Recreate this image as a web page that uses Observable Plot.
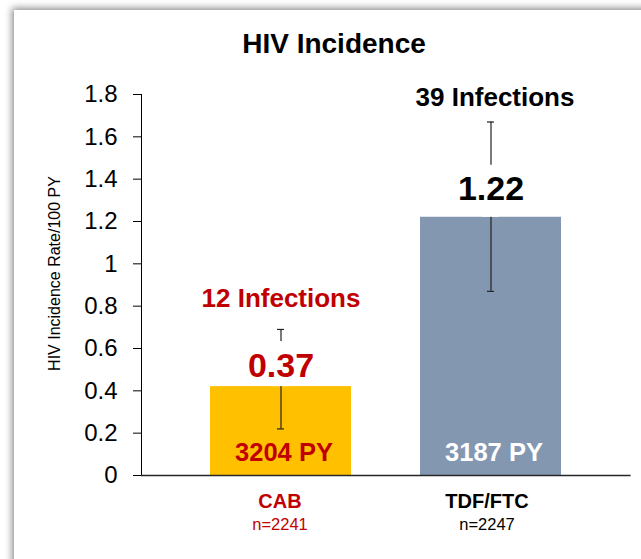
<!DOCTYPE html>
<html>
<head>
<meta charset="utf-8">
<script src="https://cdn.jsdelivr.net/npm/d3@7"></script>
<script src="https://cdn.jsdelivr.net/npm/@observablehq/plot@0.6"></script>
<style>
  html, body { margin: 0; padding: 0; background: #fff; width: 641px; height: 559px; overflow: hidden; font-family: "Liberation Sans", Arial, sans-serif; }
  #card { position: absolute; left: 14px; top: 10px; width: 700px; height: 620px; background: #fff; box-shadow: -2px -2px 7px rgba(0,0,0,0.45); }
  #title { position: absolute; left: 34px; top: 30px; width: 600px; text-align: center; font-weight: bold; font-size: 28px; line-height: 28px; color: #000; }
  #chart { position: absolute; left: 0; top: 0; }
  #chart svg { background: transparent; overflow: visible; }
</style>
</head>
<body>
<div id="card"></div>
<div id="chart"></div>
<div id="title">HIV Incidence</div>
<script>
// ---- data ----
const groups = ["CAB", "TDF/FTC"];
const rates = [0.42, 1.22];          // bar heights as drawn
const ciLow = [0.22, 0.87];
const ciHigh = [0.69, 1.67];
const rateLabels = ["0.37", "1.22"];
const infectionLabels = ["12 Infections", "39 Infections"];
const personYearLabels = ["3204 PY", "3187 PY"];
const sampleSizeLabels = ["n=2241", "n=2247"];
const yTicks = [0, 0.2, 0.4, 0.6, 0.8, 1, 1.2, 1.4, 1.6, 1.8];
const yTickLabels = ["0", "0.2", "0.4", "0.6", "0.8", "1", "1.2", "1.4", "1.6", "1.8"];
const yAxisLabel = "HIV Incidence Rate/100 PY";

// ---- styles ----
const groupStyle = {
  "CAB":     {bar: "#FFC000", text: "#C00000", py: "#C00000", valueDy: -9.5, boxUp: -45, infDy: -22, infDx: 0, pyDx: 3, nameDx: -1},
  "TDF/FTC": {bar: "#8497B0", text: "#000000", py: "#FFFFFF", valueDy: -16.8, boxUp: -52, infDy: -16.5, infDx: 4, pyDx: 3, nameDx: -4}
};

const data = groups.map((g, i) => ({
  group: g, rate: rates[i], lo: ciLow[i], hi: ciHigh[i],
  rateLabel: rateLabels[i], infections: infectionLabels[i],
  py: personYearLabels[i], n: sampleSizeLabels[i],
  fill: groupStyle[g].bar
}));

const font = "'Liberation Sans', Arial, sans-serif";
const perBar = data.flatMap(d => {
  const s = groupStyle[d.group];
  return [
    Plot.barY([d], {x: "group", y1: "rate", y2: "rate", fill: "white", insetTop: s.boxUp, insetLeft: 62, insetRight: 62}),
    Plot.text([d], {x: "group", y: "rate", text: "rateLabel", dy: s.valueDy, lineAnchor: "bottom", fontSize: 34, fontWeight: "bold", fill: s.text}),
    Plot.text([d], {x: "group", y: "hi", text: "infections", dx: s.infDx, dy: s.infDy, lineAnchor: "bottom", fontSize: 26, fontWeight: "bold", fill: s.text}),
    Plot.text([d], {x: "group", y: () => 0, text: "py", dx: s.pyDx, dy: -15, lineAnchor: "bottom", fontSize: 25.5, fontWeight: "bold", fill: s.py}),
    Plot.text([d], {x: "group", y: () => 0, text: "group", dx: s.nameDx, dy: 32, lineAnchor: "bottom", fontSize: 20, fontWeight: "bold", fill: s.text}),
    Plot.text([d], {x: "group", y: () => 0, text: "n", dx: s.nameDx, dy: 54, lineAnchor: "bottom", fontSize: 16.5, fill: s.text})
  ];
});

const chart = Plot.plot({
  width: 641,
  height: 559,
  marginLeft: 141,
  marginRight: 10.4,
  marginTop: 94,
  marginBottom: 84,
  style: {background: "transparent", fontFamily: font, fontSize: "24px", overflow: "visible", color: "#000"},
  x: {domain: groups, padding: 0.33, axis: null},
  y: {domain: [0, 1.8], ticks: yTicks, tickSize: 8, tickPadding: 16, line: true, label: null,
      tickFormat: d => yTickLabels[yTicks.indexOf(d)]},
  color: {type: "identity"},
  marks: [
    Plot.barY(data, {x: "group", y: "rate", fill: "fill"}),
    Plot.ruleY([0], {stroke: "#262626", strokeWidth: 1.3}),
    Plot.ruleX(data, {x: "group", y1: "lo", y2: "hi", stroke: "#222", strokeWidth: 1.2}),
    Plot.tickY(data, {x: "group", y: "hi", inset: 67, stroke: "#222", strokeWidth: 1.2}),
    Plot.tickY(data, {x: "group", y: "lo", inset: 67, stroke: "#222", strokeWidth: 1.2}),
    ...perBar,
    Plot.text([yAxisLabel], {frameAnchor: "left", textAnchor: "middle", rotate: -90, dx: -87, dy: -11.5, fontSize: 16, lineAnchor: "middle", fill: "#000"})
  ]
});
// grey axis line and tick marks, as in the reference
d3.select(chart).selectAll("g.tick line, path.domain").attr("stroke", "#868686");
document.getElementById("chart").appendChild(chart);
</script>
</body>
</html>
